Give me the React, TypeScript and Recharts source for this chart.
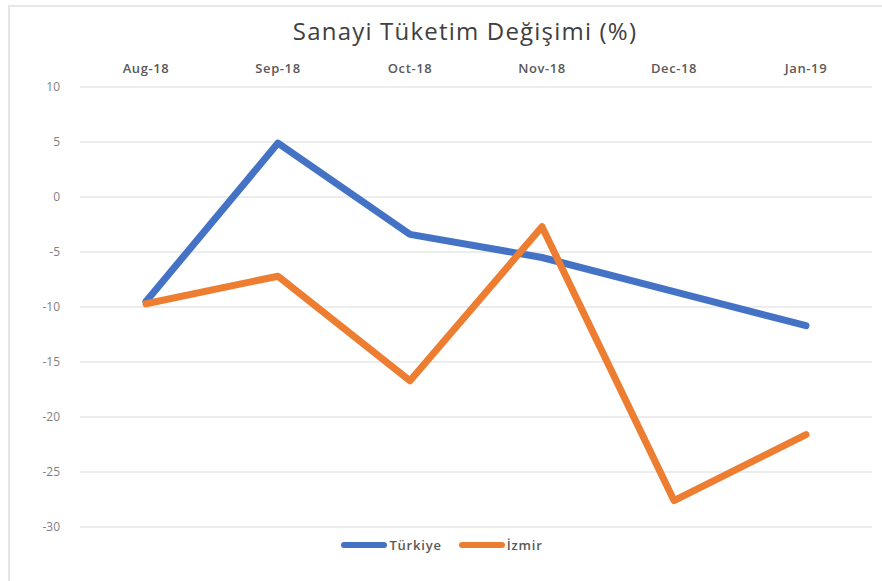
import React from 'react';
import { LineChart, Line, XAxis, YAxis, CartesianGrid, Legend } from 'recharts';

const months = ['Aug-18', 'Sep-18', 'Oct-18', 'Nov-18', 'Dec-18', 'Jan-19'];
const turkiye = [-9.5, 4.9, -3.4, -5.5, -8.6, -11.7];
const izmir = [-9.7, -7.2, -16.7, -2.7, -27.6, -21.6];
const yTicks = [10, 5, 0, -5, -10, -15, -20, -25, -30];

const data = months.map((m, i) => ({ month: m, 'Türkiye': turkiye[i], 'İzmir': izmir[i] }));

const FONT = '"Open Sans", "Liberation Sans", sans-serif';

const renderLegend = (props: any) => {
  const { payload } = props;
  return (
    <div style={{ display: 'flex', justifyContent: 'center', alignItems: 'center', fontFamily: FONT, fontSize: 13, fontWeight: 600, color: '#595959', letterSpacing: 0.8, paddingLeft: 2 }}>
      {payload.map((p: any, i: number) => (
        <div key={i} style={{ display: 'flex', alignItems: 'center', marginRight: i === 0 ? 17 : 0 }}>
          <div style={{ width: 46, height: 6, background: p.color, borderRadius: 3, marginRight: 2 }} />
          <span>{p.value}</span>
        </div>
      ))}
    </div>
  );
};

export default function App() {
  return (
    <div style={{ position: 'absolute', left: 0, top: 0, width: 882, height: 581, overflow: 'hidden', background: '#fff' }}>
      <div style={{ position: 'absolute', left: 8, top: 5, width: 900, height: 600, borderTop: '2px solid #e6e6e6', borderLeft: '2px solid #e6e6e6' }} />
      <div style={{ position: 'absolute', left: 0, top: 14, width: 930, textAlign: 'center', fontFamily: FONT, fontSize: 24, color: '#404040', letterSpacing: 1.2 }}>
        Sanayi Tüketim Değişimi (%)
      </div>
      <div style={{ position: 'absolute', left: 0, top: 0 }}>
        <LineChart width={882} height={581} data={data} margin={{ top: 50, right: 10, bottom: 34, left: 20 }}>
          <CartesianGrid vertical={false} stroke="#d9d9d9" strokeWidth={1} />
          <XAxis
            dataKey="month"
            orientation="top"
            height={37}
            padding={{ left: 66, right: 66 }}
            axisLine={false}
            tickLine={false}
            tickSize={0}
            tickMargin={14}
            tick={{ fill: '#595959', fontSize: 13, fontWeight: 600, fontFamily: FONT, letterSpacing: 0.6 }}
          />
          <YAxis
            width={60}
            domain={[-30, 10]}
            ticks={yTicks}
            axisLine={false}
            tickLine={false}
            tickSize={0}
            tickMargin={20}
            tick={{ fill: '#7f7f7f', fontSize: 12, fontFamily: FONT }}
          />
          <Legend content={renderLegend} height={20} wrapperStyle={{ top: 536, left: 0, width: 882 }} />
          <Line dataKey="Türkiye" stroke="#4472C4" strokeWidth={7} dot={false} strokeLinecap="round" strokeLinejoin="round" isAnimationActive={false} />
          <Line dataKey="İzmir" stroke="#ED7D31" strokeWidth={7} dot={false} strokeLinecap="round" strokeLinejoin="round" isAnimationActive={false} />
        </LineChart>
      </div>
    </div>
  );
}
